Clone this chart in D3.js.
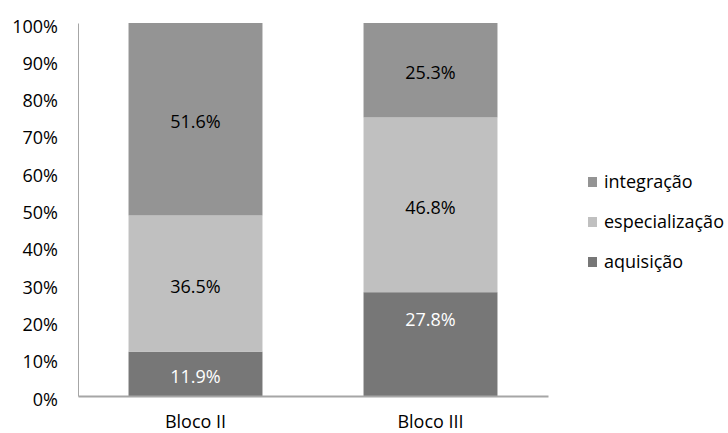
<!DOCTYPE html>
<html>
<head>
<meta charset="utf-8">
<script src="https://cdn.jsdelivr.net/npm/d3@7"></script>
<style>
  html, body { margin: 0; padding: 0; background: #fff; }
  svg { display: block; font-family: "Open Sans", "Liberation Sans", sans-serif; }
</style>
</head>
<body>
<svg id="chart" width="728" height="433"></svg>
<script>
// Share of each phase per block (percent)
const categories = ["Bloco II", "Bloco III"];
const seriesNames = ["aquisição", "especialização", "integração"];
const aquisicao = [11.9, 27.8];
const especializacao = [36.5, 46.8];
const integracao = [51.6, 25.3];
const yTicks = [0, 10, 20, 30, 40, 50, 60, 70, 80, 90, 100];

const seriesValues = [aquisicao, especializacao, integracao];
const colors = ["#777777", "#c0c0c0", "#949494"];
const labelColors = ["#ffffff", "#000000", "#000000"];
// Hand-placed label: pixel nudge for the Bloco III aquisição value
const labelNudge = { "aquisição|Bloco III": -27 };

const FS = 18;
const svg = d3.select("#chart");
const margin = { left: 78, right: 180, top: 23, bottom: 37 };
const W = 728, H = 433;

const x = d3.scaleBand()
  .domain(categories)
  .range([margin.left, W - margin.right])
  .paddingInner(0.43)
  .paddingOuter(0.215);

const y = d3.scaleLinear().domain([0, 100]).range([H - margin.bottom, margin.top]);

// Stack rows: one object per category
const rows = categories.map((c, i) => {
  const r = { cat: c };
  seriesNames.forEach((s, k) => r[s] = seriesValues[k][i]);
  return r;
});
const stack = d3.stack().keys(seriesNames).offset(d3.stackOffsetExpand);
const layers = stack(rows);

// Bars and value labels
const g = svg.append("g");
layers.forEach((layer, k) => {
  g.selectAll(null)
    .data(layer)
    .enter().append("rect")
    .attr("x", d => x(d.data.cat))
    .attr("width", x.bandwidth())
    .attr("y", d => y(d[1] * 100))
    .attr("height", d => y(d[0] * 100) - y(d[1] * 100))
    .attr("fill", colors[k]);

  g.selectAll(null)
    .data(layer)
    .enter().append("text")
    .attr("x", d => x(d.data.cat) + x.bandwidth() / 2)
    .attr("y", d => (y(d[0] * 100) + y(d[1] * 100)) / 2 + (labelNudge[layer.key + "|" + d.data.cat] || 0))
    .attr("dy", "0.5em")
    .attr("text-anchor", "middle")
    .attr("font-size", FS)
    .attr("fill", labelColors[k])
    .text((d, i) => seriesValues[k][i].toFixed(1) + "%");
});

// Y axis
const yAxis = svg.append("g")
  .attr("transform", `translate(${margin.left},0)`)
  .call(d3.axisLeft(y).tickValues(yTicks).tickSize(0).tickPadding(20).tickFormat(d => d + "%"))
  .attr("font-family", null).attr("font-size", null);
yAxis.select(".domain").attr("stroke", "#a6a6a6").attr("stroke-width", 1);
yAxis.selectAll("text").attr("font-size", FS).attr("fill", "#000").attr("dy", "0.5em");

// X axis
const xAxis = svg.append("g")
  .attr("transform", `translate(0,${H - margin.bottom})`)
  .call(d3.axisBottom(x).tickSize(0).tickPadding(19))
  .attr("font-family", null).attr("font-size", null);
xAxis.select(".domain").attr("stroke", "#a6a6a6").attr("stroke-width", 2);
xAxis.selectAll("text").attr("font-size", FS).attr("fill", "#000");

// Legend (top to bottom: integração, especialização, aquisição)
const legendOrder = [2, 1, 0];
const legend = svg.append("g");
legendOrder.forEach((k, j) => {
  const cy = 182 + j * 40;
  legend.append("rect")
    .attr("x", 588).attr("y", cy - 5)
    .attr("width", 9).attr("height", 10)
    .attr("fill", colors[k]);
  legend.append("text")
    .attr("x", 604).attr("y", cy)
    .attr("dy", "0.35em")
    .attr("font-size", FS)
    .attr("fill", "#000")
    .text(seriesNames[k]);
});
</script>
</body>
</html>
